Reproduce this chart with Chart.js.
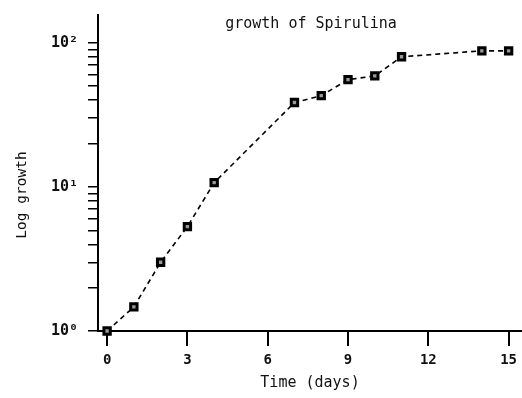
<!DOCTYPE html>
<html>
<head>
<meta charset="utf-8">
<script src="https://cdn.jsdelivr.net/npm/chart.js@4/dist/chart.umd.min.js"></script>
<style>
html,body{margin:0;padding:0;background:#fff;}
#wrap{width:522px;height:398px;}
</style>
</head>
<body>
<div id="wrap"><canvas id="c" width="522" height="398"></canvas></div>
<script>
const titleText = "growth of Spirulina";
const xTitle = "Time (days)";
const yTitle = "Log growth";
const days = [0, 1, 2, 3, 4, 7, 8, 9, 10, 11, 14, 15];
const growth = [1.0, 1.47, 3.0, 5.3, 10.7, 38.5, 43, 55.5, 59, 80, 88, 88];
const xTicks = [0, 3, 6, 9, 12, 15];
const yTicks = [1,2,3,4,5,6,7,8,9,10,20,30,40,50,60,70,80,90,100];
const yLabels = {1: "10\u2070", 10: "10\u00b9", 100: "10\u00b2"};

const mono = "'DejaVu Sans Mono', 'Liberation Mono', monospace";

const textPlugin = {
  id: 'areaTexts',
  afterDraw(chart) {
    const ctx = chart.ctx, a = chart.chartArea;
    ctx.save();
    ctx.fillStyle = "#111";
    ctx.textAlign = "center";
    ctx.textBaseline = "middle";
    ctx.font = "15px " + mono;
    ctx.fillText(titleText, (a.left + a.right) / 2 + 1, 24);
    ctx.font = "14.5px " + mono;
    ctx.translate(22, 195);
    ctx.rotate(-Math.PI / 2);
    ctx.fillText(yTitle, 0, 0);
    ctx.restore();
  }
};

new Chart(document.getElementById('c'), {
  type: 'line',
  data: {
    datasets: [{
      data: days.map((d, i) => ({x: d, y: growth[i]})),
      borderColor: '#000',
      borderWidth: 1.6,
      borderDash: [5, 4],
      pointStyle: 'rect',
      pointRadius: 4.5,
      pointBorderWidth: 3,
      pointBackgroundColor: '#999',
      pointBorderColor: '#000',
      tension: 0,
      clip: false
    }]
  },
  options: {
    responsive: false,
    animation: false,
    layout: {autoPadding: false, padding: {top: 15, left: 0, right: 0, bottom: 0}},
    plugins: {legend: {display: false}, tooltip: {enabled: false}, title: {display: false}},
    scales: {
      x: {
        type: 'linear',
        min: -0.34,
        max: 15.5,
        afterBuildTicks: s => { s.ticks = xTicks.map(v => ({value: v})); },
        afterFit: s => { s.height = 67; s.paddingLeft = 0; s.paddingRight = 0; },
        border: {display: true, color: '#000', width: 2},
        grid: {display: true, drawOnChartArea: false, drawTicks: true, tickLength: 15, color: '#000', lineWidth: 2},
        ticks: {color: '#111', font: {family: mono, size: 14, weight: 'bold'}, padding: 6, maxRotation: 0, autoSkip: false},
        title: {display: true, text: xTitle, color: '#111', font: {family: mono, size: 15}, padding: {top: 0, bottom: 6}}
      },
      y: {
        type: 'logarithmic',
        min: 1,
        max: 156,
        afterBuildTicks: s => { s.ticks = yTicks.map(v => ({value: v})); },
        afterFit: s => { s.width = 98; s.paddingTop = 0; s.paddingBottom = 0; },
        border: {display: true, color: '#000', width: 2},
        grid: {display: true, drawOnChartArea: false, drawTicks: true, tickLength: 10, color: '#000', lineWidth: 1.5},
        ticks: {color: '#111', font: {family: mono, size: 15, weight: 'bold'}, padding: 10, autoSkip: false,
          callback: v => yLabels[v] || ''},
        title: {display: false}
      }
    }
  },
  plugins: [textPlugin]
});
</script>
</body>
</html>
